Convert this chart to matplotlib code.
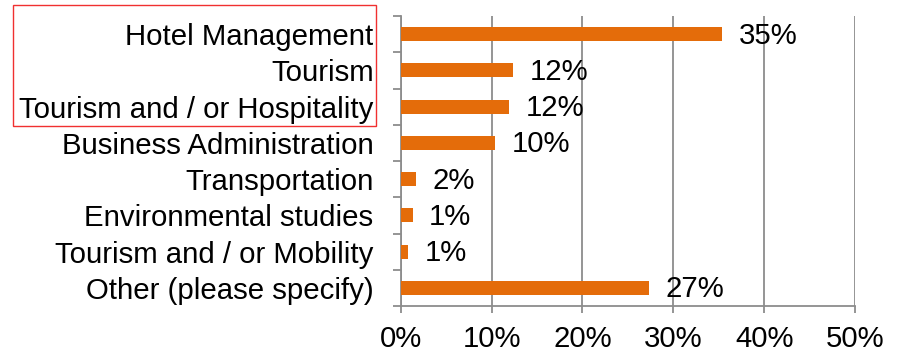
import matplotlib.pyplot as plt
from matplotlib.patches import Rectangle

plt.rcParams['font.family'] = ['Liberation Sans', 'DejaVu Sans']

categories = ["Hotel Management", "Tourism", "Tourism and / or Hospitality",
              "Business Administration", "Transportation", "Environmental studies",
              "Tourism and / or Mobility", "Other (please specify)"]
shares = [35.4, 12.4, 11.9, 10.4, 1.7, 1.3, 0.8, 27.3]
x_ticks = [0, 10, 20, 30, 40, 50]

bar_color = '#E46C0A'
grid_color = '#8C8C8C'
fs = 21.2

fig = plt.figure(figsize=(9.13, 3.56), dpi=100)
ax = fig.add_axes([400.7 / 913, 1 - 306 / 356, (855 - 400.7) / 913, 290 / 356])

y_pos = list(range(len(categories)))
ax.barh(y_pos, shares, height=0.39, color=bar_color, zorder=3)

# value labels to the right of each bar
for y, v in zip(y_pos, shares):
    ax.annotate(f"{v:.0f}%", (v, y), xytext=(12, -1), textcoords='offset points',
                ha='left', va='center', fontsize=fs, color='black')

ax.set_xlim(0, 50)
ax.set_ylim(len(categories) - 0.5, -0.5)
ax.set_xticks(x_ticks)
ax.set_xticklabels([f"{t}%" for t in x_ticks], fontsize=fs)

# category names sit between the boundary ticks
ax.set_yticks(y_pos)
ax.set_yticklabels(categories, fontsize=fs)
ax.set_yticks([i - 0.5 for i in range(len(categories) + 1)], minor=True)
ax.tick_params(axis='y', which='major', length=0, pad=19.5)
ax.tick_params(axis='y', which='minor', length=6, width=1.3, color=grid_color, direction='out')
ax.tick_params(axis='x', length=5, width=1.3, color=grid_color, pad=9)

ax.grid(axis='x', color=grid_color, linewidth=1.3, zorder=0)
for side in ['top', 'right']:
    ax.spines[side].set_visible(False)
for side in ['left', 'bottom']:
    ax.spines[side].set_color(grid_color)
    ax.spines[side].set_linewidth(1.3)

# red frame around the first three categories
fig.patches.append(Rectangle((13 / 913, 1 - 126 / 356), (376 - 13) / 913, (126 - 5) / 356,
                             transform=fig.transFigure, fill=False, edgecolor='#F03030',
                             linewidth=1.0))

fig.savefig('out.png', dpi=100)
